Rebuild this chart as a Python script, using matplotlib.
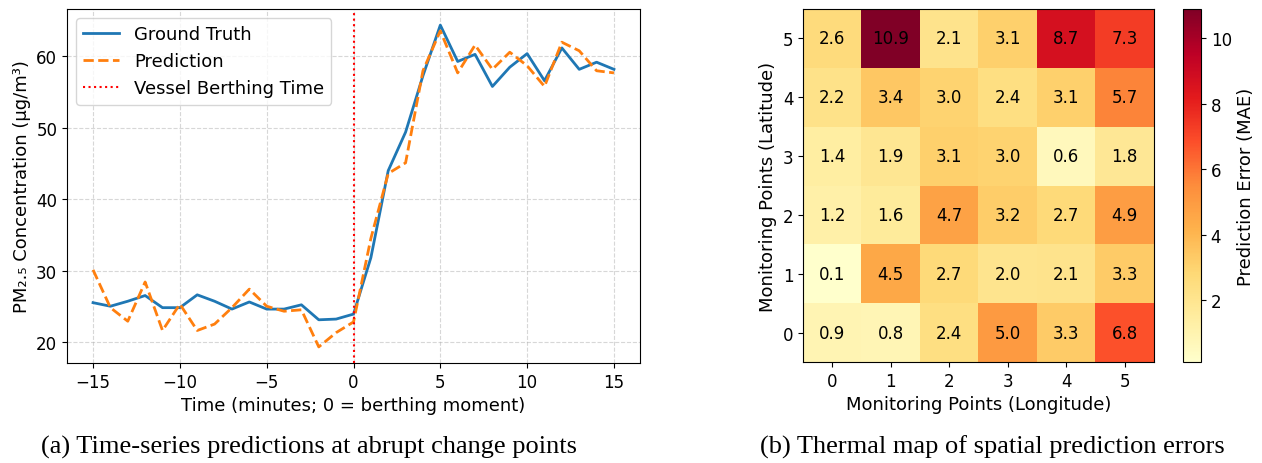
import numpy as np
import matplotlib
matplotlib.use("Agg")
import matplotlib.pyplot as plt

# ---- data ----
time_min = list(range(-15, 16))
ground_truth = [25.5, 25.0, 25.7, 26.5, 24.8, 24.8, 26.6, 25.7, 24.6, 25.6, 24.6, 24.6, 25.2, 23.1, 23.2, 23.9,
                31.8, 44.0, 49.4, 57.3, 64.4, 59.3, 60.3, 55.8, 58.5, 60.4, 56.6, 61.2, 58.2, 59.2, 58.2]
prediction = [30.1, 24.8, 22.9, 28.4, 21.6, 25.3, 21.6, 22.5, 24.8, 27.4, 25.0, 24.3, 24.5, 19.3, 21.3, 22.8,
              34.5, 43.6, 45.1, 58.0, 63.6, 57.7, 61.6, 58.2, 60.6, 58.7, 55.8, 62.0, 60.8, 58.0, 57.7]
berthing_time = 0

lon_labels = [0, 1, 2, 3, 4, 5]
lat_labels = [0, 1, 2, 3, 4, 5]
# rows: latitude 0 (bottom) .. 5 (top); columns: longitude 0..5
mae = np.array([
    [0.9, 0.8, 2.4, 5.0, 3.3, 6.8],
    [0.1, 4.5, 2.7, 2.0, 2.1, 3.3],
    [1.2, 1.6, 4.7, 3.2, 2.7, 4.9],
    [1.4, 1.9, 3.1, 3.0, 0.6, 1.8],
    [2.2, 3.4, 3.0, 2.4, 3.1, 5.7],
    [2.6, 10.9, 2.1, 3.1, 8.7, 7.3],
])

caption_a = "(a) Time-series predictions at abrupt change points"
caption_b = "(b) Thermal map of spatial prediction errors"

W, H = 1262, 464
fig = plt.figure(figsize=(W / 100, H / 100), dpi=100)

def fx(px):
    return px / W

def fy(py):
    return py / H

# ---- left: time series ----
ax1 = fig.add_axes([fx(67), fy(464 - 364), fx(573), fy(354)])
ax1.plot(time_min, ground_truth, color="#1f77b4", lw=2, label="Ground Truth")
ax1.plot(time_min, prediction, color="#ff7f0e", lw=2, ls=(0, (3.7, 1.6)), label="Prediction")
ax1.axvline(berthing_time, color="red", ls=":", lw=1.5, label="Vessel Berthing Time")
ax1.grid(True, ls="--", alpha=0.5)
ax1.set_xlabel("Time (minutes; 0 = berthing moment)", fontsize=13)
ax1.set_ylabel("PM₂.₅ Concentration (μg/m³)", fontsize=13)
ax1.tick_params(labelsize=12)
ax1.set_yticks([20, 30, 40, 50, 60])
ax1.legend(loc="upper left", fontsize=13)

# ---- right: heatmap ----
ax2 = fig.add_axes([fx(803), fy(464 - 363), fx(351), fy(353)])
cax = fig.add_axes([fx(1183), fy(464 - 363), fx(18), fy(353)])
im = ax2.imshow(mae, cmap="YlOrRd", origin="lower", aspect="auto")
for i in range(mae.shape[0]):
    for j in range(mae.shape[1]):
        ax2.text(j, i, f"{mae[i, j]:.1f}", ha="center", va="center", color="black", fontsize=12)
ax2.set_xticks(range(len(lon_labels)))
ax2.set_xticklabels(lon_labels)
ax2.set_yticks(range(len(lat_labels)))
ax2.set_yticklabels(lat_labels)
ax2.tick_params(labelsize=12)
ax2.set_xlabel("Monitoring Points (Longitude)", fontsize=13)
ax2.set_ylabel("Monitoring Points (Latitude)", fontsize=13)
cb = fig.colorbar(im, cax=cax)
cb.set_label("Prediction Error (MAE)", fontsize=13)
cb.ax.tick_params(labelsize=12)

# ---- captions ----
fig.text(fx(309), fy(464 - 447), caption_a, ha="center", va="center",
         fontsize=19, family=["Liberation Serif", "DejaVu Serif"])
fig.text(fx(992), fy(464 - 447), caption_b, ha="center", va="center",
         fontsize=19, family=["Liberation Serif", "DejaVu Serif"])

fig.savefig("out.png", dpi=100)
